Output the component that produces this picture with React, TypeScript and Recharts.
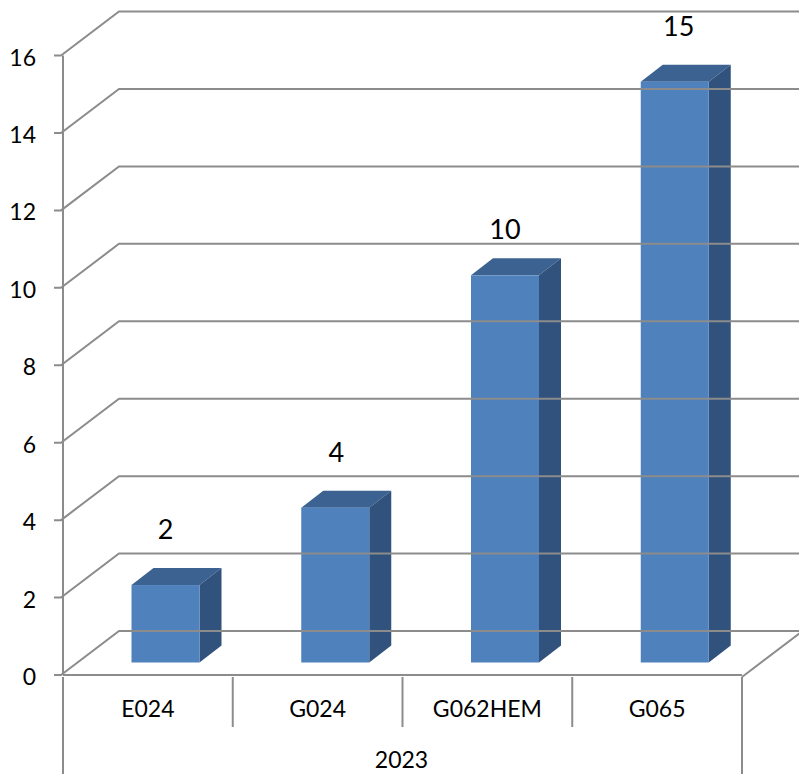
import React from 'react';
import { BarChart, Bar, XAxis, YAxis, LabelList } from 'recharts';

const categories = ['E024', 'G024', 'G062HEM', 'G065'];
const values = [2, 4, 10, 15];
const yearLabel = '2023';
const yTicks = [0, 2, 4, 6, 8, 10, 12, 14, 16];

const data = categories.map((code, i) => ({ code, value: values[i], year: yearLabel }));

const GRID = '#8c8c8c';
const FRONT = '#4f81bd';
const TOP = '#3b6291';
const SIDE = '#31527c';
const FONT = 'Lato, sans-serif';

const WIDTH = 799;
const HEIGHT = 774;
const DEPTH_X = 58;
const DEPTH_Y = 44;

const YTick = (props: any) => {
  const { x, y, payload } = props;
  return (
    <g>
      <path
        d={`M${x - 7} ${y}H${x}L${x + DEPTH_X} ${y - DEPTH_Y}H${WIDTH}`}
        fill="none"
        stroke={GRID}
        strokeWidth={2}
      />
      <text x={x - 25} y={y + 10} textAnchor="end" fontFamily={FONT} fontSize={23} fill="#000">
        {payload.value}
      </text>
    </g>
  );
};

const CodeTick = (props: any) => {
  const { x, y, payload, index } = props;
  const edge = x + payload.offset;
  return (
    <g>
      <text x={x} y={y + 40} textAnchor="middle" fontFamily={FONT} fontSize={23} fill="#000">
        {payload.value}
      </text>
      {index < categories.length - 1 && <line x1={edge} x2={edge} y1={y} y2={y + 50} stroke={GRID} strokeWidth={2} />}
    </g>
  );
};

const YearTick = (props: any) => {
  const { x, y, payload } = props;
  const l = x - payload.offset;
  const r = x + payload.offset;
  return (
    <g>
      <line x1={l} x2={l} y1={y - 50} y2={HEIGHT} stroke={GRID} strokeWidth={2} />
      <line x1={r} x2={r} y1={y - 50} y2={HEIGHT} stroke={GRID} strokeWidth={2} />
      <line x1={r} x2={r + DEPTH_X} y1={y - 50} y2={y - 50 - DEPTH_Y} stroke={GRID} strokeWidth={2} />
      <text x={x - 1} y={y + 41} textAnchor="middle" fontFamily={FONT} fontSize={23} fill="#000">
        {payload.value}
      </text>
    </g>
  );
};

// column sits partway into the floor, so shift it back from the axis plane
const SHIFT_X = 17.5;
const SHIFT_Y = 12.5;
const COL_DX = 22;
const COL_DY = 17;

const Column = (props: any) => {
  const { width, height } = props;
  const x = props.x + SHIFT_X;
  const y = props.y - SHIFT_Y;
  const r = x + width;
  const b = y + height;
  return (
    <g>
      <path d={`M${x} ${y}L${x + COL_DX} ${y - COL_DY}H${r + COL_DX}L${r} ${y}Z`} fill={TOP} />
      <path d={`M${r} ${y}L${r + COL_DX} ${y - COL_DY}V${b - COL_DY}L${r} ${b}Z`} fill={SIDE} />
      <rect x={x} y={y} width={width} height={height} fill={FRONT} />
    </g>
  );
};

// hand placed in the original
const labelNudge: Record<number, [number, number]> = { 4: [1, 0], 10: [0, 10], 15: [4, 0] };

const ValueLabel = (props: any) => {
  const { x, y, width, value } = props;
  const [nx, ny] = labelNudge[value] || [0, 0];
  return (
    <text
      x={x + SHIFT_X + width / 2 + nx}
      y={y - SHIFT_Y - 46 + ny}
      textAnchor="middle"
      fontFamily={FONT}
      fontSize={27}
      fill="#000"
    >
      {value}
    </text>
  );
};

export default function App() {
  return (
    <div style={{ position: 'absolute', left: 0, top: 0, width: WIDTH, height: HEIGHT, background: '#fff' }}>
      <BarChart width={WIDTH} height={HEIGHT} data={data} margin={{ top: 55.5, right: 57, bottom: 0, left: 0 }}>
        <YAxis
          width={63}
          domain={[0, 16]}
          ticks={yTicks}
          interval={0}
          tick={<YTick />}
          tickLine={false}
          tickSize={0}
          axisLine={{ stroke: GRID, strokeWidth: 2 }}
        />
        <XAxis
          dataKey="code"
          height={50}
          interval={0}
          tick={<CodeTick />}
          tickLine={false}
          tickSize={0}
          axisLine={{ stroke: GRID, strokeWidth: 2 }}
        />
        <XAxis
          xAxisId="year"
          dataKey="year"
          allowDuplicatedCategory={false}
          height={49}
          interval={0}
          tick={<YearTick />}
          tickLine={false}
          tickSize={0}
          axisLine={false}
        />
        <Bar dataKey="value" barSize={68} isAnimationActive={false} shape={<Column />}>
          <LabelList dataKey="value" content={<ValueLabel />} />
        </Bar>
      </BarChart>
    </div>
  );
}
